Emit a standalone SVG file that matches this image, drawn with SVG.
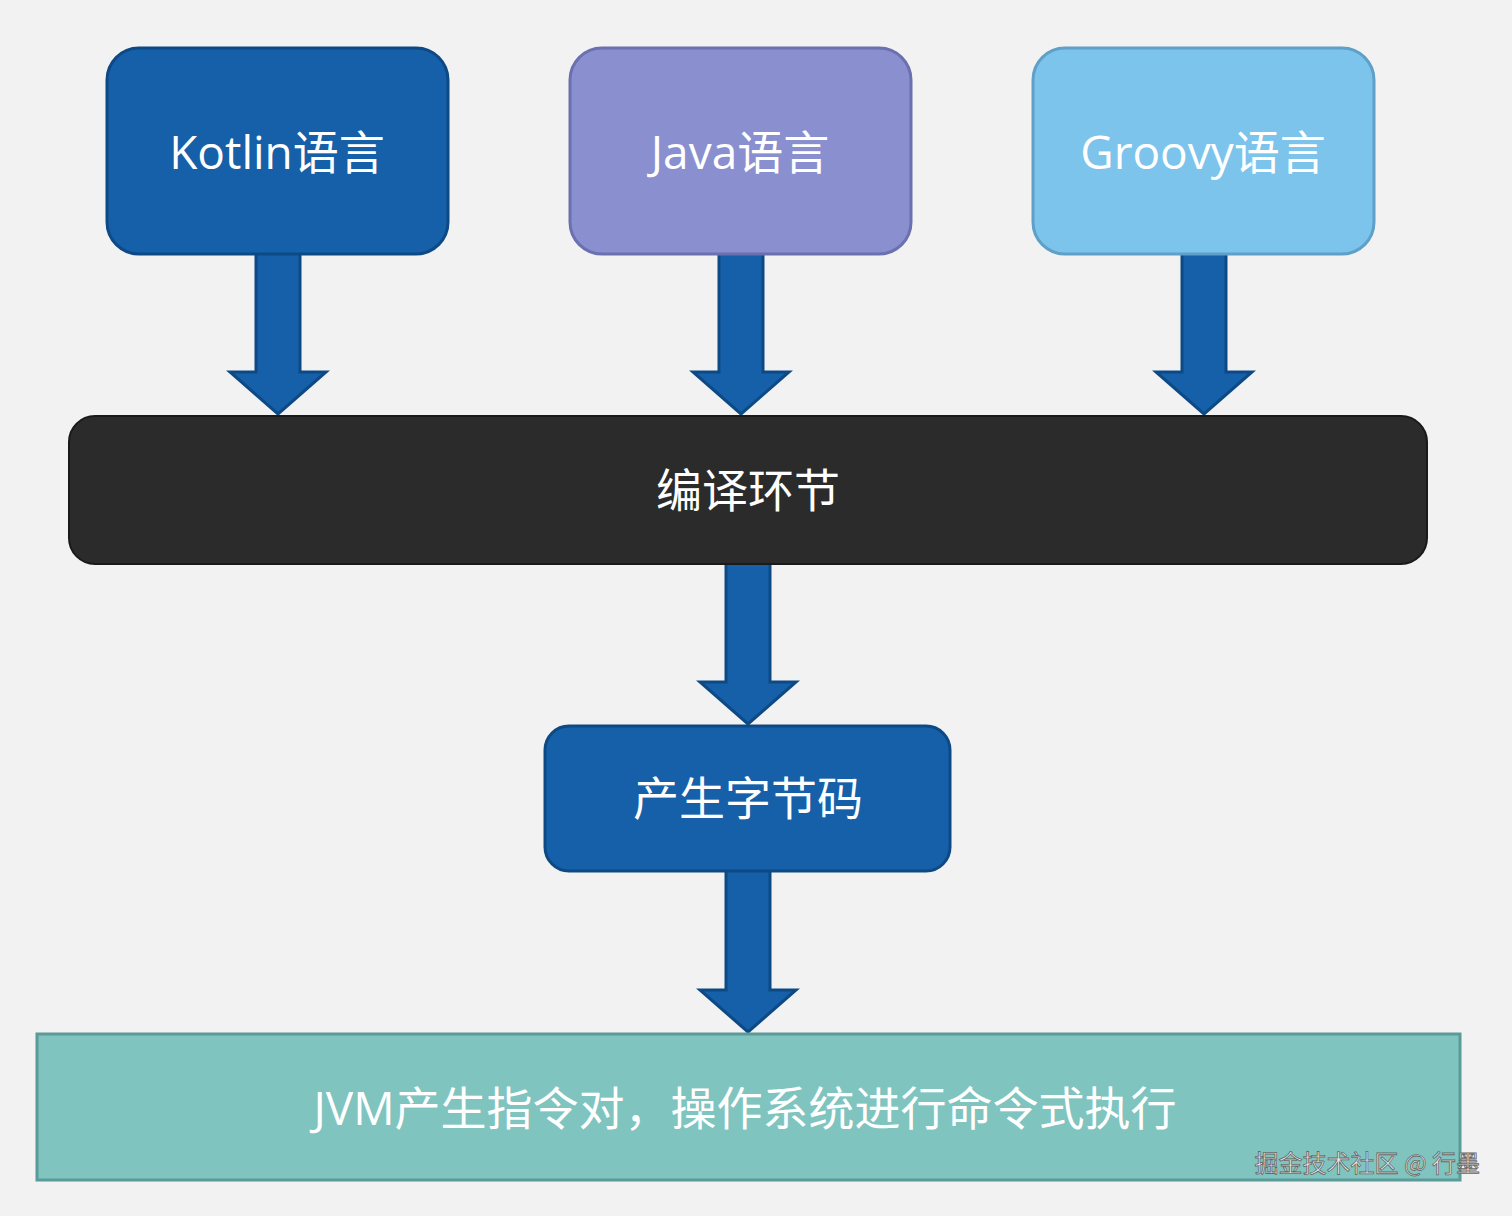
<svg xmlns="http://www.w3.org/2000/svg" width="1512" height="1216" viewBox="0 0 1512 1216">
<style>
.t{font-family:"Open Sans","Noto Sans CJK SC",sans-serif;fill:#fff;font-size:46px;text-anchor:middle;dominant-baseline:central}
.arr{fill:#1560a8;stroke:#0d4a85;stroke-width:3}
</style>
<rect width="1512" height="1216" fill="#f2f2f2"/>
<g id="connectors">
<path class="arr" d="M256 252H300V372H326L278 414L230 372H256Z"/>
<path class="arr" d="M719 252H763V372H789L741 414L693 372H719Z"/>
<path class="arr" d="M1182 252H1226V372H1252L1204 414L1156 372H1182Z"/>
<path class="arr" d="M726 562H770V682H796L748 724L700 682H726Z"/>
<path class="arr" d="M726 870H770V990H796L748 1032L700 990H726Z"/>
</g>
<g id="kotlin"><rect x="107" y="48" width="341" height="206" rx="32" fill="#1560a8" stroke="#0d4a85" stroke-width="3"/><text class="t" x="277" y="151">Kotlin语言</text></g>
<g id="java"><rect x="570" y="48" width="341" height="206" rx="32" fill="#8a8fd0" stroke="#6b70b0" stroke-width="3"/><text class="t" x="740" y="151">Java语言</text></g>
<g id="groovy"><rect x="1033" y="48" width="341" height="206" rx="32" fill="#7cc4ec" stroke="#5fa0c8" stroke-width="3"/><text class="t" x="1203" y="151">Groovy语言</text></g>
<g id="compile"><rect x="69" y="416" width="1358" height="148" rx="26" fill="#2b2b2b" stroke="#1a1a1a" stroke-width="2"/><text class="t" x="748" y="489">编译环节</text></g>
<g id="bytecode"><rect x="545" y="726" width="405" height="145" rx="24" fill="#1560a8" stroke="#0d4a85" stroke-width="3"/><text class="t" x="748" y="797">产生字节码</text></g>
<g id="jvm"><rect x="37" y="1034" width="1423" height="146" fill="#80c4c0" stroke="#5a9a98" stroke-width="3"/><text class="t" x="745" y="1107">JVM产生指令对，操作系统进行命令式执行</text></g>
<text x="1480" y="1172" font-family="Noto Sans CJK SC,sans-serif" font-size="24" fill="#eee" stroke="#666" stroke-width="0.8" text-anchor="end">掘金技术社区 @ 行墨</text>
</svg>
